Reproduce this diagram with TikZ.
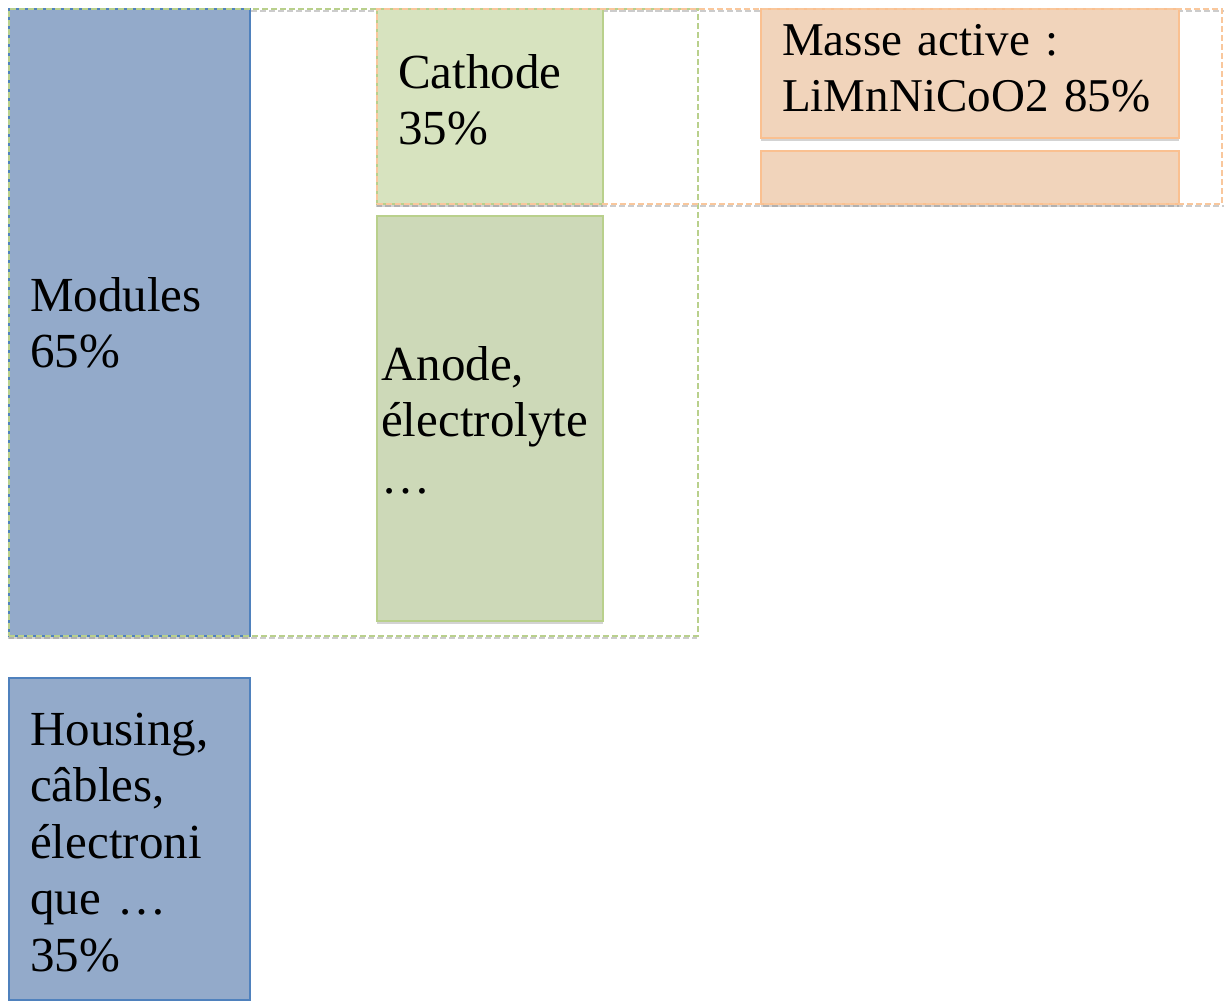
\documentclass[tikz,border=0pt]{standalone}
\usepackage{fontspec}
\setmainfont{Liberation Serif}
\usetikzlibrary{shadows}
\definecolor{bluefill}{HTML}{93AACA}
\definecolor{blueline}{HTML}{4F81BD}
\definecolor{cathfill}{HTML}{D7E3BF}
\definecolor{anofill}{HTML}{CDD9B8}
\definecolor{greenline}{HTML}{B9D08C}
\definecolor{orline}{HTML}{FAC090}
\definecolor{orfill}{HTML}{F1D4BB}
\definecolor{ordash}{HTML}{F9C79C}
\begin{document}
\begin{tikzpicture}[x=1pt,y=-1pt,
  box/.style={rectangle, inner sep=0pt, line width=1.5pt,
    drop shadow={shadow xshift=0pt, shadow yshift=-3pt, opacity=0.35, fill=gray}},
  bluebox/.style={box, fill=bluefill, draw=blueline},
  cathbox/.style={box, fill=cathfill, draw=greenline},
  anobox/.style={box, fill=anofill, draw=greenline},
  orbox/.style={box, fill=orfill, draw=orline},
  grpgreen/.style={draw=greenline, dash pattern=on 6pt off 3pt, line width=1.8pt},
  grporange/.style={draw=ordash, dash pattern=on 6pt off 3pt, line width=1.8pt},
  grpshadow/.style={draw=gray!40, dash pattern=on 6pt off 3pt, line width=1.6pt},
  txt/.style={inner sep=0pt, anchor=base west, align=left, text width=240pt,
    font=\fontsize{49}{56.5}\selectfont}
]
\useasboundingbox (0,0) rectangle (1224,1001);
% shadow lines of the group frames
\draw[grpshadow] (8,11) -- (697,11);
\draw[grpshadow] (8,638) -- (697,638);
\draw[grpshadow] (376,206) -- (1224,206);
\draw[grpshadow] (376,11) -- (1224,11);
% boxes
\node[bluebox, minimum width=241pt, minimum height=627pt, anchor=north west] (mod) at (8,8) {};
\node[bluebox, minimum width=241pt, minimum height=322pt, anchor=north west] (hou) at (8,677) {};
\node[cathbox, minimum width=226pt, minimum height=195pt, anchor=north west] (cat) at (376,8) {};
\node[anobox, minimum width=226pt, minimum height=405pt, anchor=north west] (ano) at (376,215) {};
\node[orbox, minimum width=418pt, minimum height=129pt, anchor=north west] (mas) at (760,8) {};
\node[orbox, minimum width=418pt, minimum height=53pt, anchor=north west] (emp) at (760,150) {};
% dashed group frames
\node[grpgreen, rectangle, inner sep=0pt, minimum width=689pt, minimum height=627pt, anchor=north west] (g1) at (8,8) {};
\node[grporange, rectangle, inner sep=0pt, minimum width=845pt, minimum height=195pt, anchor=north west] (g2) at (376,8) {};
% texts
\node[txt] (tmod) at (30,311) {Modules\\65\%};
\node[txt] (thou) at (30,745) {Housing,\\câbles,\\électroni\\que …\\35\%};
\node[txt] (tcat) at (398,88) {Cathode\\35\%};
\node[txt] (tano) at (381,380) {Anode,\\électrolyte\\…};
\node[txt, text width=420pt, font=\fontsize{47}{56.5}\selectfont] (tmas) at (782,55) {Masse active :\\LiMnNiCoO2 85\%};
\end{tikzpicture}
\end{document}
